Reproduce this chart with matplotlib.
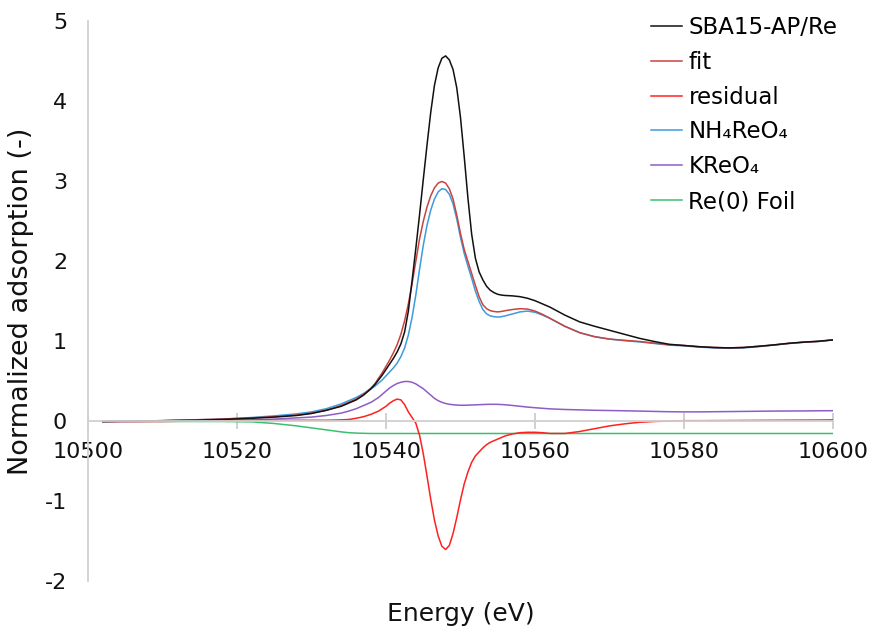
import matplotlib
matplotlib.use("Agg")
import matplotlib.pyplot as plt

# Photon energy grid (eV)
energy = [10502, 10506, 10510, 10514, 10518, 10522, 10525, 10528, 10530, 10532,
          10534, 10535, 10536, 10537,
          10538, 10538.5, 10539, 10539.5, 10540, 10540.5, 10541, 10541.5, 10542, 10542.5,
          10543, 10543.5, 10544, 10544.5, 10545, 10545.5, 10546, 10546.5, 10547, 10547.5,
          10548, 10548.5, 10549, 10549.5, 10550, 10550.5, 10551, 10551.5, 10552, 10552.5,
          10553, 10553.5, 10554, 10554.5, 10555, 10555.5, 10556,
          10557, 10558, 10559, 10560, 10561, 10562,
          10564, 10566, 10568, 10570, 10572, 10574, 10576, 10578, 10580, 10582,
          10584, 10586, 10588, 10590, 10592, 10594, 10596, 10598, 10600]

sample = [0.00, 0.005, 0.01, 0.015, 0.025, 0.04, 0.055, 0.075, 0.10, 0.14,
          0.19, 0.23, 0.27, 0.33,
          0.41, 0.46, 0.52, 0.58, 0.65, 0.72, 0.79, 0.87, 0.97, 1.12,
          1.38, 1.76, 2.16, 2.58, 3.02, 3.45, 3.86, 4.20, 4.42, 4.54,
          4.57, 4.52, 4.40, 4.17, 3.80, 3.31, 2.79, 2.34, 2.04, 1.87,
          1.77, 1.69, 1.64, 1.61, 1.59, 1.58, 1.575,
          1.57, 1.56, 1.54, 1.51, 1.47, 1.43,
          1.33, 1.245, 1.19, 1.14, 1.09, 1.04, 1.0, 0.965, 0.95, 0.935,
          0.925, 0.92, 0.925, 0.94, 0.957, 0.977, 0.992, 1.003, 1.02]

fit = [0.00, 0.005, 0.01, 0.02, 0.03, 0.045, 0.06, 0.08, 0.105, 0.14,
       0.20, 0.24, 0.28, 0.34,
       0.42, 0.47, 0.54, 0.61, 0.69, 0.77, 0.86, 0.96, 1.09, 1.26,
       1.47, 1.72, 2.00, 2.28, 2.50, 2.68, 2.82, 2.92, 2.98, 3.00,
       2.98, 2.91, 2.78, 2.58, 2.35, 2.15, 2.00, 1.85, 1.70, 1.56,
       1.46, 1.41, 1.385, 1.375, 1.37, 1.375, 1.385,
       1.40, 1.41, 1.405, 1.38, 1.34, 1.29,
       1.19, 1.11, 1.06, 1.03, 1.015, 1.00, 0.98, 0.96, 0.95, 0.935,
       0.925, 0.92, 0.925, 0.94, 0.955, 0.975, 0.99, 1.00, 1.02]

residual = [0.00, 0.00, 0.00, 0.005, 0.01, 0.015, 0.015, 0.015, 0.015, 0.015,
            0.02, 0.025, 0.04, 0.06,
            0.09, 0.11, 0.13, 0.16, 0.19, 0.23, 0.26, 0.28, 0.27, 0.21,
            0.12, 0.05, -0.02, -0.17, -0.40, -0.68, -0.97, -1.23, -1.43, -1.56,
            -1.60, -1.55, -1.40, -1.20, -0.98, -0.78, -0.63, -0.51, -0.43, -0.38,
            -0.33, -0.29, -0.26, -0.24, -0.22, -0.20, -0.18,
            -0.155, -0.14, -0.135, -0.135, -0.14, -0.15,
            -0.15, -0.125, -0.09, -0.055, -0.03, -0.01, 0.00, 0.005, 0.01, 0.01,
            0.011, 0.012, 0.013, 0.014, 0.015, 0.016, 0.017, 0.018, 0.02]

nh4reo4 = [0.00, 0.005, 0.01, 0.02, 0.03, 0.05, 0.07, 0.095, 0.12, 0.16,
           0.22, 0.26, 0.30, 0.35,
           0.41, 0.44, 0.48, 0.52, 0.57, 0.62, 0.67, 0.73, 0.81, 0.92,
           1.08, 1.30, 1.58, 1.90, 2.20, 2.45, 2.64, 2.78, 2.87, 2.91,
           2.90, 2.84, 2.72, 2.53, 2.30, 2.10, 1.94, 1.79, 1.63, 1.50,
           1.40, 1.345, 1.32, 1.31, 1.305, 1.31, 1.32,
           1.345, 1.37, 1.38, 1.365, 1.33, 1.29,
           1.19, 1.11, 1.06, 1.03, 1.01, 0.995, 0.975, 0.955, 0.945, 0.93,
           0.92, 0.915, 0.92, 0.935, 0.955, 0.975, 0.99, 1.00, 1.02]

kreo4 = [0.00, 0.00, 0.005, 0.01, 0.015, 0.02, 0.03, 0.045, 0.055, 0.075,
         0.105, 0.13, 0.16, 0.20,
         0.24, 0.27, 0.30, 0.34, 0.38, 0.42, 0.45, 0.475, 0.49, 0.50,
         0.50, 0.49, 0.47, 0.44, 0.41, 0.37, 0.33, 0.29, 0.26, 0.24,
         0.225, 0.215, 0.21, 0.205, 0.203, 0.203, 0.204, 0.206, 0.208, 0.21,
         0.212, 0.214, 0.215, 0.215, 0.214, 0.212, 0.209,
         0.20, 0.19, 0.18, 0.172, 0.165, 0.158,
         0.15, 0.145, 0.14, 0.137, 0.134, 0.13, 0.126, 0.122, 0.12, 0.12,
         0.122, 0.124, 0.126, 0.128, 0.13, 0.131, 0.132, 0.134, 0.135]

re_foil = [0.00, 0.00, 0.00, 0.00, 0.00, -0.005, -0.025, -0.055, -0.08, -0.105,
           -0.13, -0.14, -0.145, -0.148,
           -0.15, -0.15, -0.15, -0.15, -0.15, -0.15, -0.15, -0.15, -0.15, -0.15,
           -0.15, -0.15, -0.15, -0.15, -0.15, -0.15, -0.15, -0.15, -0.15, -0.15,
           -0.15, -0.15, -0.15, -0.15, -0.15, -0.15, -0.15, -0.15, -0.15, -0.15,
           -0.15, -0.15, -0.15, -0.15, -0.15, -0.15, -0.15,
           -0.15, -0.15, -0.15, -0.15, -0.15, -0.15,
           -0.15, -0.15, -0.15, -0.15, -0.15, -0.15, -0.15, -0.15, -0.15, -0.15,
           -0.15, -0.15, -0.15, -0.15, -0.15, -0.15, -0.15, -0.15, -0.15]

series_labels = ["SBA15-AP/Re", "fit", "residual", "NH\u2084ReO\u2084", "KReO\u2084", "Re(0) Foil"]
series_colors = ["#111111", "#c8443f", "#ff2020", "#3e9bdd", "#8e5cc6", "#3cbf72"]

x_ticks = [10500, 10520, 10540, 10560, 10580, 10600]
y_ticks = [-2, -1, 0, 1, 2, 3, 4, 5]

plt.rcParams["font.family"] = ["DejaVu Sans"]

fig = plt.figure(figsize=(8.71, 6.30), dpi=100)
ax = fig.add_axes([0.101, 0.077, 0.8554, 0.8889])

all_series = [sample, fit, residual, nh4reo4, kreo4, re_foil]
draw_order = [5, 4, 2, 3, 1, 0]
lines = {}
for i in draw_order:
    ln, = ax.plot(energy, all_series[i], color=series_colors[i], lw=1.1,
                  label=series_labels[i], solid_joinstyle="round")
    lines[i] = ln

ax.set_xlim(10500, 10600)
ax.set_ylim(-2, 5)
ax.set_xticks(x_ticks)
ax.set_yticks(y_ticks)
ax.set_yticklabels([str(v) for v in y_ticks])

axis_grey = "#d0d0d0"
for side in ("top", "right"):
    ax.spines[side].set_visible(False)
ax.spines["bottom"].set_position(("data", 0))
ax.spines["bottom"].set_color(axis_grey)
ax.spines["left"].set_color(axis_grey)
ax.spines["bottom"].set_linewidth(1.3)
ax.spines["left"].set_linewidth(1.3)

ax.tick_params(axis="x", direction="inout", length=11, width=1.1, color="#c4c4c4",
               labelsize=16, pad=9, labelcolor="#111111")
ax.tick_params(axis="y", length=0, labelsize=16, pad=15, labelcolor="#111111")

ax.set_xlabel("Energy (eV)", fontsize=18, color="#111111")
ax.xaxis.set_label_coords(0.5, -0.036)
ax.set_ylabel("Normalized adsorption (-)", fontsize=19.5, color="#111111")
ax.yaxis.set_label_coords(-0.072, 0.5)

handles = [lines[i] for i in range(6)]
leg = fig.legend(handles, series_labels, loc="upper left",
                 bbox_to_anchor=(0.747, 0.975), frameon=False, fontsize=16.5,
                 handlelength=1.35, handletextpad=0.3, labelspacing=0.52,
                 borderpad=0, borderaxespad=0)

fig.savefig("out.png", dpi=100)
